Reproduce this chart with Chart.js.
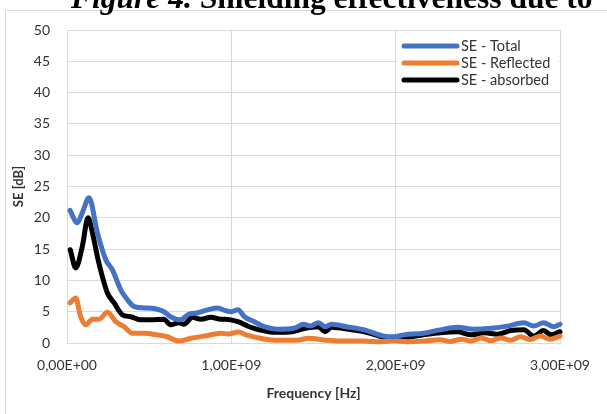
<!DOCTYPE html>
<html>
<head>
<meta charset="utf-8">
<script src="https://cdn.jsdelivr.net/npm/chart.js@4.4.1/dist/chart.umd.min.js"></script>
<style>
  body { margin: 0; background: #fff; overflow: hidden; }
  #wrap { position: relative; width: 607px; height: 414px; overflow: hidden; }
  #chart { position: absolute; left: 0; top: 0; }
  .cap { position: absolute; top: -20px; font: bold 31.5px "Liberation Serif", serif; white-space: nowrap; color: #000; }
</style>
</head>
<body>
<div id="wrap">
  <canvas id="chart" width="607" height="414"></canvas>
  <div class="cap" style="left:71px"><i>Figure 4.</i> Shielding effectiveness due to</div>
</div>
<script>
// frequency in units of 1E+09 Hz, SE in dB
const totalFreq = [0.018, 0.063, 0.093, 0.134, 0.185, 0.236, 0.276, 0.327, 0.368, 0.41, 0.47, 0.53, 0.59, 0.63, 0.69, 0.74, 0.79, 0.855, 0.917, 0.96, 1.0, 1.04, 1.08, 1.14, 1.2, 1.28, 1.38, 1.44, 1.48, 1.53, 1.57, 1.61, 1.70, 1.81, 1.93, 1.99, 2.05, 2.17, 2.27, 2.376, 2.476, 2.58, 2.68, 2.78, 2.84, 2.90, 2.96, 3.0];
const totalSE   = [21.2, 19.2, 20.8, 23.2, 17.6, 13.3, 11.7, 8.5, 6.9, 5.8, 5.6, 5.5, 5.0, 4.2, 3.7, 4.6, 4.8, 5.3, 5.6, 5.2, 5.0, 5.3, 4.2, 3.4, 2.6, 2.2, 2.35, 3.0, 2.7, 3.25, 2.6, 3.0, 2.6, 2.1, 1.1, 1.0, 1.3, 1.55, 2.1, 2.5, 2.2, 2.35, 2.7, 3.25, 2.7, 3.25, 2.6, 3.0];

const reflFreq = [0.018, 0.053, 0.083, 0.114, 0.155, 0.195, 0.246, 0.297, 0.348, 0.398, 0.47, 0.55, 0.61, 0.68, 0.754, 0.835, 0.937, 0.98, 1.045, 1.09, 1.15, 1.26, 1.40, 1.47, 1.57, 1.66, 1.80, 1.91, 1.99, 2.07, 2.17, 2.27, 2.33, 2.40, 2.46, 2.52, 2.58, 2.64, 2.70, 2.76, 2.82, 2.88, 2.94, 3.0];
const reflSE   = [6.4, 7.2, 4.2, 2.9, 3.8, 3.8, 4.9, 3.4, 2.6, 1.55, 1.55, 1.3, 1.0, 0.3, 0.75, 1.1, 1.55, 1.45, 1.75, 1.3, 0.9, 0.45, 0.45, 0.75, 0.45, 0.3, 0.3, 0.2, 0.35, 0.2, 0.3, 0.5, 0.25, 0.6, 0.3, 0.8, 0.35, 0.8, 0.45, 1.0, 0.55, 1.1, 0.6, 1.1];

const absFreq = [0.02, 0.053, 0.093, 0.128, 0.155, 0.185, 0.215, 0.246, 0.287, 0.337, 0.388, 0.45, 0.51, 0.59, 0.63, 0.68, 0.71, 0.764, 0.815, 0.876, 0.937, 0.96, 1.04, 1.11, 1.17, 1.27, 1.37, 1.45, 1.53, 1.57, 1.61, 1.73, 1.81, 1.90, 1.98, 2.07, 2.17, 2.27, 2.376, 2.46, 2.54, 2.62, 2.70, 2.78, 2.84, 2.90, 2.945, 3.0];
const absSE   = [14.9, 12.0, 15.4, 20.0, 17.6, 13.8, 10.6, 8.0, 6.4, 4.5, 4.2, 3.7, 3.7, 3.8, 2.9, 3.25, 3.0, 4.1, 3.8, 4.1, 3.8, 3.8, 3.4, 2.6, 2.1, 1.7, 1.8, 2.35, 2.6, 1.8, 2.5, 2.1, 1.8, 1.1, 0.75, 0.9, 1.3, 1.65, 1.8, 1.3, 1.65, 1.4, 2.0, 2.1, 1.1, 2.0, 1.3, 1.8];

const seriesNames = ["SE - Total", "SE - Reflected", "SE - absorbed"];
const seriesColors = ["#4472C4", "#ED7D31", "#000000"];
const xTickLabels = ["0,00E+00", "1,00E+09", "2,00E+09", "3,00E+09"];

function toPoints(freq, se) {
  return freq.map((f, i) => ({ x: f * 1e9, y: se[i] }));
}

const frame = {
  id: "frame",
  beforeDraw(chart) {
    const c = chart.ctx;
    c.save();
    c.fillStyle = "#fff";
    c.fillRect(0, 0, chart.width, chart.height);
    c.strokeStyle = "#d9d9d9";
    c.lineWidth = 1;
    c.strokeRect(5.5, 10.5, 800, 600);
    c.restore();
  }
};

// excel style legend sitting inside the plot, top right
const boxLegend = {
  id: "boxLegend",
  afterDraw(chart) {
    const c = chart.ctx;
    c.save();
    c.fillStyle = "#fff";
    c.fillRect(397, 31, 162, 57);
    chart.data.datasets.forEach((ds, i) => {
      const y = 46 + i * 17;
      c.strokeStyle = ds.borderColor;
      c.lineWidth = 5;
      c.lineCap = "round";
      c.beginPath();
      c.moveTo(404, y);
      c.lineTo(457, y);
      c.stroke();
      c.fillStyle = "#333";
      c.font = "14.5px Lato";
      c.textBaseline = "middle";
      c.fillText(ds.label, 461, y);
    });
    c.restore();
  }
};

const datasets = [
  { label: seriesNames[0], data: toPoints(totalFreq, totalSE) },
  { label: seriesNames[1], data: toPoints(reflFreq, reflSE) },
  { label: seriesNames[2], data: toPoints(absFreq, absSE) }
].map((d, i) => Object.assign(d, {
  borderColor: seriesColors[i],
  backgroundColor: seriesColors[i],
  borderWidth: 5,
  pointRadius: 0,
  borderCapStyle: "round",
  borderJoinStyle: "round",
  cubicInterpolationMode: "monotone",
  clip: 6,
  fill: false
}));

const config = {
  type: "line",
  data: { datasets: datasets },
  options: {
    responsive: false,
    animation: false,
    layout: { padding: { top: 30, right: 47, left: 0, bottom: 0 } },
    plugins: { legend: { display: false }, tooltip: { enabled: false } },
    scales: {
      x: {
        type: "linear",
        min: 0,
        max: 3e9,
        afterFit: (s) => { s.height = 71; },
        grid: { color: "#d9d9d9", drawTicks: false },
        border: { color: "#d9d9d9" },
        ticks: {
          stepSize: 1e9,
          maxRotation: 0,
          autoSkip: false,
          padding: 14,
          color: "#333",
          font: { family: "Lato", size: 14 },
          callback: (v) => xTickLabels[Math.round(v / 1e9)]
        },
        title: {
          display: true,
          text: "Frequency [Hz]",
          color: "#333",
          font: { family: "Lato", size: 14, weight: "bold" },
          padding: { top: 0, bottom: 12 }
        }
      },
      y: {
        min: 0,
        max: 50,
        afterFit: (s) => { s.width = 67; },
        grid: { color: "#d9d9d9", drawTicks: false },
        border: { color: "#d9d9d9" },
        ticks: {
          stepSize: 5,
          padding: 17,
          color: "#333",
          font: { family: "Lato", size: 14 }
        },
        title: {
          display: true,
          text: "SE [dB]",
          color: "#333",
          font: { family: "Lato", size: 13, weight: "bold" },
          padding: { top: 11, bottom: 0 }
        }
      }
    }
  },
  plugins: [frame, boxLegend]
};

window.onload = function () {
  new Chart(document.getElementById("chart").getContext("2d"), config);
};
</script>
</body>
</html>
